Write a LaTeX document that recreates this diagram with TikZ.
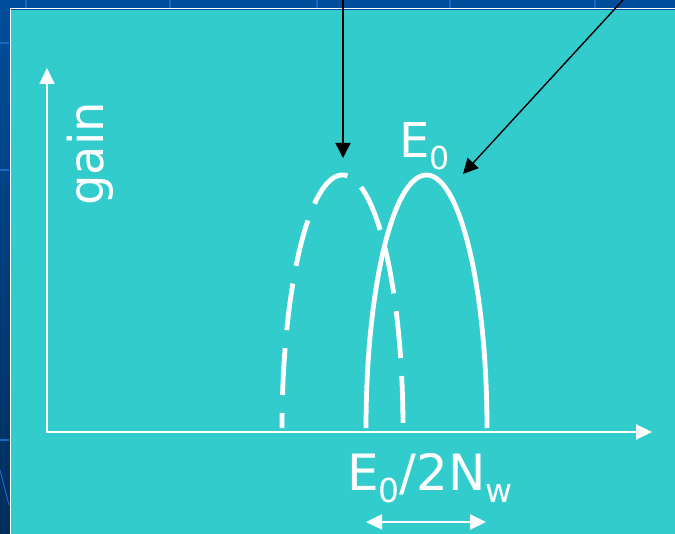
\documentclass[tikz,border=0pt]{standalone}
\usepackage{fontspec}
\setmainfont{DejaVu Sans}
\usetikzlibrary{arrows.meta}
\definecolor{slidecyan}{RGB}{51,204,204}
\definecolor{slideblue}{RGB}{0,78,155}
\definecolor{slidedeep}{RGB}{0,46,92}
\definecolor{slidegrid}{RGB}{24,104,196}
\newcommand{\lowsub}[1]{\raisebox{-0.25em}{\fontsize{0.66em}{0.66em}\selectfont #1}}

\begin{document}
\begin{tikzpicture}[x=1bp, y=-1bp, line cap=butt,
    axisline/.style={white, line width=2bp},
    pointer/.style={black, line width=1.4bp, -{Triangle[length=15bp,width=15bp]}},
    gaincurve/.style={white, line width=4.8bp},
    slidetext/.style={white, inner sep=0pt, font=\fontsize{48bp}{48bp}\selectfont}]
  % Slide background
  \useasboundingbox (0,0) rectangle (675,534);
  \shade[top color=slideblue, bottom color=slidedeep] (0,0) rectangle (675,534);
  \foreach \gx in {26,170,317,450,595}
    \draw[slidegrid, line width=1.5bp] (\gx,0) -- (\gx,8);
  \foreach \gy in {43,170,440}
    \draw[slidegrid, line width=1.5bp] (0,\gy) -- (9,\gy);
  \draw[slidegrid, line width=1bp] (0,470) -- (9,505);
  \fill[slidecyan] (11,10) rectangle (675,534);
  \draw[white, line width=1bp] (10,534) -- (10,9) -- (675,9);

  % Axes
  \coordinate (ytip) at (47,68);
  \coordinate (origin) at (47,432);
  \coordinate (xtip) at (652,432);
  \draw[axisline, {Triangle[length=16bp,width=15bp]}-{Triangle[length=16bp,width=15bp]}]
    (ytip) -- (origin) -- (xtip);
  \node[slidetext, rotate=90, anchor=base] (gainlabel) at (103,154) {gain};

  % Shifted (dashed) and nominal gain curves
  \draw[gaincurve, dash pattern=on 47bp off 18bp, dash phase=32bp]
    plot[domain=180:360, samples=120] ({342.5+60.5*cos(\x)}, {428+253*sin(\x)});
  \draw[gaincurve]
    plot[domain=180:360, samples=120] ({426.5+60.5*cos(\x)}, {428+253*sin(\x)});

  % Labels
  \node[slidetext, anchor=base west] (peaklabel) at (399,158) {E\lowsub{0}};
  \node[slidetext, anchor=base west, font=\fontsize{50bp}{50bp}\selectfont] (widthlabel) at (347,490) {E\lowsub{0}/2N\lowsub{w}};

  % Width of the gain curve
  \coordinate (wleft) at (366,522);
  \coordinate (wright) at (486,522);
  \draw[axisline, {Triangle[length=16bp,width=15bp]}-{Triangle[length=16bp,width=15bp]}]
    (wleft) -- (wright);

  % Pointers from above
  \coordinate (shiftedtop) at (343,0);
  \coordinate (shiftedpeak) at (343,158);
  \coordinate (nominaltop) at (623,0);
  \coordinate (nominalpeak) at (463,174);
  \draw[pointer] (shiftedtop) -- (shiftedpeak);
  \draw[pointer] (nominaltop) -- (nominalpeak);
\end{tikzpicture}
\end{document}
